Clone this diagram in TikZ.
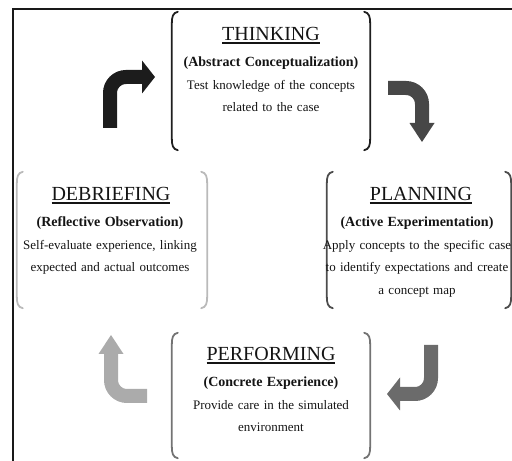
\documentclass[tikz,border=0pt]{standalone}
\usepackage{fontspec}
\setmainfont{Liberation Serif}
\usepackage{tikz}
\usetikzlibrary{arrows.meta,positioning,calc}
\usepackage{xcolor}
\newcommand{\underlined}[1]{\setbox0=\hbox{#1}\rlap{\copy0}\raisebox{-3pt}{\rule{\wd0}{1.4pt}}}
\newcommand{\subhead}[1]{{\bfseries\fontsize{14}{22.5}\selectfont #1}}
% open brackets on the left and right of a box node
\newcommand{\boxbrackets}[2]{%
  \draw[bracketline, draw=#2]
    ([xshift=6pt]#1.north west)
      .. controls ([xshift=1pt,yshift=-1pt]#1.north west) and ([yshift=-5pt]#1.north west) ..
    ([yshift=-12pt]#1.north west) -- ([yshift=12pt]#1.south west)
      .. controls ([yshift=5pt]#1.south west) and ([xshift=1pt,yshift=1pt]#1.south west) ..
    ([xshift=6pt]#1.south west);
  \draw[bracketline, draw=#2]
    ([xshift=-6pt]#1.north east)
      .. controls ([xshift=-1pt,yshift=-1pt]#1.north east) and ([yshift=-5pt]#1.north east) ..
    ([yshift=-12pt]#1.north east) -- ([yshift=12pt]#1.south east)
      .. controls ([yshift=5pt]#1.south east) and ([xshift=-1pt,yshift=1pt]#1.south east) ..
    ([xshift=-6pt]#1.south east);
}

\begin{document}
\begin{tikzpicture}[
  x=1pt, y=1pt,
  % box and text styles
  boxarea/.style={draw=none, inner sep=0pt},
  headtext/.style={font=\fontsize{20}{24}\selectfont, text=black!92, anchor=base, inner sep=0pt},
  bodytext/.style={font=\fontsize{13}{22.5}\selectfont, text=black!92, anchor=base,
                   inner sep=0pt, text width=200pt, align=center},
  bracketline/.style={line width=1.8pt, line cap=round},
  % bent arrow styles
  bentarrow/.style={line width=14pt, rounded corners=16pt},
  tipwide/.style={-{Triangle[length=13pt, width=33pt, line width=0pt]}},
  tipnarrow/.style={-{Triangle[length=19pt, width=25pt, line width=0pt]}}
]
  \useasboundingbox (0,0) rectangle (512,461);

  % outer frame (cut by the page on the right and at the bottom)
  \draw[line width=2pt, black!90] (13,-5) -- (13,452) -- (520,452);

  % =============================================================
  % Boxes
  % =============================================================
  \node[boxarea, minimum width=198pt, minimum height=138pt] (thinkBox) at (271,380) {};
  \node[boxarea, minimum width=190pt, minimum height=136pt] (debriefBox) at (112,221) {};
  \node[boxarea, minimum width=184pt, minimum height=136pt] (planBox) at (419,221) {};
  \node[boxarea, minimum width=198pt, minimum height=125pt] (performBox) at (271,65.5) {};

  \boxbrackets{thinkBox}{black!88}
  \boxbrackets{debriefBox}{black!27}
  \boxbrackets{planBox}{black!70}
  \boxbrackets{performBox}{black!55}

  % THINKING
  \node[headtext] (thinkHead) at ([yshift=-29pt]thinkBox.north) {\underlined{THINKING}};
  \node[bodytext] (thinkBody) at ([yshift=-55pt]thinkBox.north)
       {\subhead{(Abstract Conceptualization)}\\Test knowledge of the concepts\\related to the case};

  % DEBRIEFING
  \node[headtext] (debriefHead) at ([yshift=-29pt,xshift=-1pt]debriefBox.north) {\underlined{DEBRIEFING}};
  \node[bodytext] (debriefBody) at ([yshift=-55pt,xshift=-2pt]debriefBox.north)
       {\subhead{(Reflective Observation)}\\Self-evaluate experience, linking\\expected and actual outcomes};

  % PLANNING
  \node[headtext] (planHead) at ([yshift=-29pt,xshift=2pt]planBox.north) {\underlined{PLANNING}};
  \node[bodytext] (planBody) at ([yshift=-55pt,xshift=-2pt]planBox.north)
       {\subhead{(Active Experimentation)}\\Apply concepts to the specific case\\to identify expectations and create\\a concept map};

  % PERFORMING
  \node[headtext] (performHead) at ([yshift=-28pt]performBox.north) {\underlined{PERFORMING}};
  \node[bodytext] (performBody) at ([yshift=-54pt]performBox.north)
       {\subhead{(Concrete Experience)}\\Provide care in the simulated\\environment};

  % =============================================================
  % Bent arrows between the boxes
  % =============================================================
  \coordinate (tlStart) at (110,333);
  \coordinate (tlEnd) at (155,384);
  \coordinate (trStart) at (388,373);
  \coordinate (trEnd) at (422,319);
  \coordinate (brStart) at (431,116);
  \coordinate (brEnd) at (387,67);
  \coordinate (blStart) at (147,65);
  \coordinate (blEnd) at (111,126);

  \draw[bentarrow, tipwide, draw=black!89] (tlStart) |- (tlEnd);
  \draw[bentarrow, tipnarrow, draw=black!72] (trStart) -| (trEnd);
  \draw[bentarrow, tipwide, draw=black!58] (brStart) |- (brEnd);
  \draw[bentarrow, tipnarrow, draw=black!33] (blStart) -| (blEnd);
\end{tikzpicture}
\end{document}
